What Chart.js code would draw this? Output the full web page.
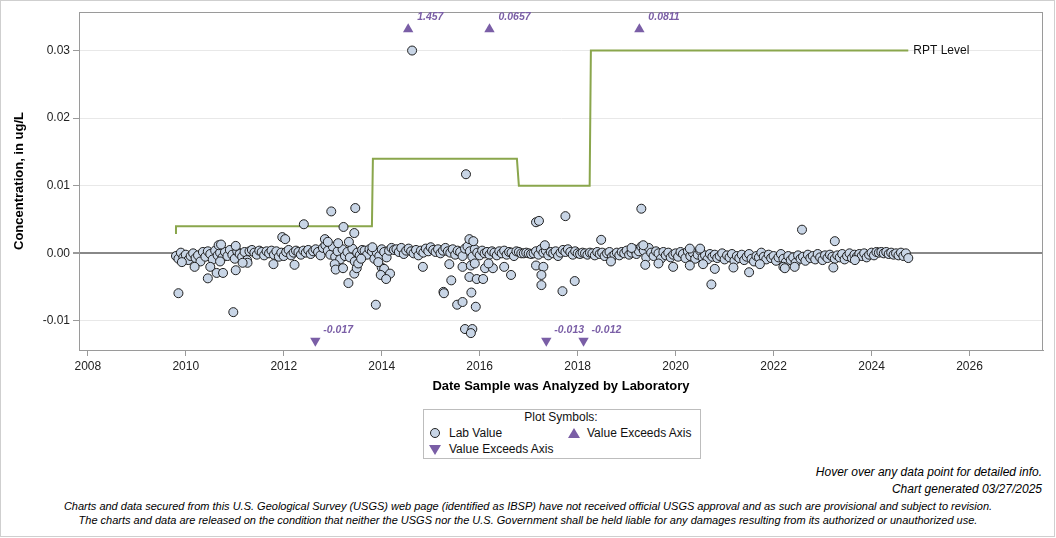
<!DOCTYPE html>
<html>
<head>
<meta charset="utf-8">
<script src="https://cdn.jsdelivr.net/npm/chart.js@4.4.1/dist/chart.umd.min.js"></script>
<style>
  body { margin: 0; background: #fff; font-family: Arial, "Liberation Sans", Helvetica, sans-serif; }
  #frame { position: absolute; left: 0; top: 0; width: 1053px; height: 535px; border: 1px solid #cfcfcf; }
  #wrap { position: absolute; left: 0; top: 0; width: 1056px; height: 400px; }
  .abs { position: absolute; white-space: nowrap; color: #000; }
  #legend { position: absolute; left: 423px; top: 409px; width: 276px; height: 48px; border: 1px solid #bdbdbd; }
  .lg { position: absolute; font-size: 12px; line-height: 14px; white-space: nowrap; color: #111; }
  .dot { position: absolute; width: 8px; height: 8px; border-radius: 50%; background: #c8d5e6; border: 1px solid #222; }
  .up { position: absolute; width: 0; height: 0; border-left: 6px solid transparent; border-right: 6px solid transparent; border-bottom: 10px solid #7a5ea6; }
  .down { position: absolute; width: 0; height: 0; border-left: 6px solid transparent; border-right: 6px solid transparent; border-top: 10px solid #7a5ea6; }
  .note { font-size: 12px; font-style: italic; right: 14px; text-align: right; }
  .disc { font-size: 11px; font-style: italic; left: 0; width: 1056px; text-align: center; }
</style>
</head>
<body>
<div id="frame"></div>
<div id="wrap"><canvas id="chart" width="1056" height="400"></canvas></div>

<div id="legend"></div>
<div class="lg" style="left:423px;top:410px;width:276px;text-align:center;">Plot Symbols:</div>
<div class="dot" style="left:430px;top:428px;"></div>
<div class="lg" style="left:449px;top:426px;">Lab Value</div>
<div class="up" style="left:568px;top:428px;"></div>
<div class="lg" style="left:587px;top:426px;">Value Exceeds Axis</div>
<div class="down" style="left:429px;top:445px;"></div>
<div class="lg" style="left:449px;top:442px;">Value Exceeds Axis</div>

<div class="abs note" style="top:465px;">Hover over any data point for detailed info.</div>
<div class="abs note" style="top:482px;">Chart generated 03/27/2025</div>
<div class="abs disc" style="top:500px;">Charts and data secured from this U.S. Geological Survey (USGS) web page (identified as IBSP) have not received official USGS approval and as such are provisional and subject to revision.</div>
<div class="abs disc" style="top:514px;">The charts and data are released on the condition that neither the USGS nor the U.S. Government shall be held liable for any damages resulting from its authorized or unauthorized use.</div>

<script>
// axis ticks
var xTicks = [2008, 2010, 2012, 2014, 2016, 2018, 2020, 2022, 2024, 2026];
var yTicks = [-0.01, 0, 0.01, 0.02, 0.03];

// reporting level (step line)
var rptYears  = [2009.78, 2009.80, 2013.80, 2013.82, 2016.76, 2016.80, 2018.245, 2018.27, 2024.75];
var rptLevels = [0.003, 0.004, 0.004, 0.014, 0.014, 0.010, 0.010, 0.030, 0.030];

// lab values, the main band near zero
var bandYears = [
  2009.80, 2009.85, 2009.90, 2009.95, 2010.00, 2010.05, 2010.10, 2010.15, 2010.20, 2010.25,
  2010.30, 2010.35, 2010.40, 2010.45, 2010.50, 2010.55, 2010.60, 2010.65, 2010.70, 2010.75,
  2010.80, 2010.85, 2010.90, 2010.95, 2011.00, 2011.05, 2011.10, 2011.15, 2011.20, 2011.25,
  2011.30, 2011.35, 2011.40, 2011.45, 2011.50, 2011.55, 2011.60, 2011.65, 2011.70, 2011.75,
  2011.80, 2011.85, 2011.90, 2011.95, 2012.00, 2012.05, 2012.10, 2012.15, 2012.20, 2012.25,
  2012.30, 2012.35, 2012.40, 2012.45, 2012.50, 2012.55, 2012.60, 2012.65, 2012.70, 2012.75,
  2012.80, 2012.85, 2012.90, 2012.95, 2013.00, 2013.05, 2013.10, 2013.15, 2013.20, 2013.25,
  2013.30, 2013.35, 2013.40, 2013.45, 2013.50, 2013.55, 2013.60, 2013.65, 2013.70, 2013.75,
  2013.80, 2013.85, 2013.90, 2013.95, 2014.00, 2014.05, 2014.10, 2014.15, 2014.20, 2014.25,
  2014.30, 2014.35, 2014.40, 2014.45, 2014.50, 2014.55, 2014.60, 2014.65, 2014.70, 2014.75,
  2014.80, 2014.85, 2014.90, 2014.95, 2015.00, 2015.05, 2015.10, 2015.15, 2015.20, 2015.25,
  2015.30, 2015.35, 2015.40, 2015.45, 2015.50, 2015.55, 2015.60, 2015.65, 2015.70, 2015.75,
  2015.80, 2015.85, 2015.90, 2015.95, 2016.00, 2016.05, 2016.10, 2016.15, 2016.20, 2016.25,
  2016.30, 2016.35, 2016.40, 2016.45, 2016.50, 2016.55, 2016.60, 2016.65, 2016.70, 2016.75,
  2016.80, 2016.85, 2016.90, 2016.95, 2017.00, 2017.05, 2017.10, 2017.15, 2017.20, 2017.25,
  2017.30, 2017.35, 2017.40, 2017.45, 2017.50, 2017.55, 2017.60, 2017.65, 2017.70, 2017.75,
  2017.80, 2017.85, 2017.90, 2017.95, 2018.00, 2018.05, 2018.10, 2018.15, 2018.20, 2018.25,
  2018.30, 2018.35, 2018.40, 2018.45, 2018.50, 2018.55, 2018.60, 2018.65, 2018.70, 2018.75,
  2018.80, 2018.85, 2018.90, 2018.95, 2019.00, 2019.05, 2019.10, 2019.15, 2019.20, 2019.25,
  2019.30, 2019.35, 2019.40, 2019.45, 2019.50, 2019.55, 2019.60, 2019.65, 2019.70, 2019.75,
  2019.80, 2019.85, 2019.90, 2019.95, 2020.00, 2020.05, 2020.10, 2020.15, 2020.20, 2020.25,
  2020.30, 2020.35, 2020.40, 2020.45, 2020.50, 2020.55, 2020.60, 2020.65, 2020.70, 2020.75,
  2020.80, 2020.85, 2020.90, 2020.95, 2021.00, 2021.05, 2021.10, 2021.15, 2021.20, 2021.25,
  2021.30, 2021.35, 2021.40, 2021.45, 2021.50, 2021.55, 2021.60, 2021.65, 2021.70, 2021.75,
  2021.80, 2021.85, 2021.90, 2021.95, 2022.00, 2022.05, 2022.10, 2022.15, 2022.20, 2022.25,
  2022.30, 2022.35, 2022.40, 2022.45, 2022.50, 2022.55, 2022.60, 2022.65, 2022.70, 2022.75,
  2022.80, 2022.85, 2022.90, 2022.95, 2023.00, 2023.05, 2023.10, 2023.15, 2023.20, 2023.25,
  2023.30, 2023.35, 2023.40, 2023.45, 2023.50, 2023.55, 2023.60, 2023.65, 2023.70, 2023.75,
  2023.80, 2023.85, 2023.90, 2023.95, 2024.00, 2024.05, 2024.10, 2024.15, 2024.20, 2024.25,
  2024.30, 2024.35, 2024.40, 2024.45, 2024.50, 2024.55, 2024.60, 2024.65, 2024.70, 2024.75
];
var bandValues = [
  -0.0004, -0.0008, 0.0001, -0.0006, -0.0002, -0.0010, -0.0004, 0.0000, -0.0007, -0.0003,
  -0.0012, 0.0002, -0.0005, 0.0003, -0.0001, -0.0009, 0.0004, -0.0003, 0.0001, -0.0006,
  0.0002, -0.0004, 0.0005, -0.0002, -0.0008, 0.0003, -0.0001, -0.0005, 0.0002, -0.0010,
  0.0003, 0.0005, 0.0001, -0.0002, 0.0004, 0.0002, -0.0003, 0.0003, 0.0000, 0.0004,
  -0.0002, 0.0003, -0.0005, 0.0001, -0.0004, 0.0002, 0.0005, -0.0003, 0.0001, 0.0004,
  0.0002, -0.0002, 0.0004, 0.0001, 0.0005, -0.0001, 0.0003, 0.0006, 0.0002, -0.0003,
  0.0008, 0.0012, 0.0004, -0.0002, 0.0010, -0.0005, 0.0003, -0.0009, 0.0006, -0.0004,
  0.0002, -0.0006, 0.0007, -0.0012, 0.0001, -0.0003, 0.0005, 0.0004, -0.0002, 0.0006,
  0.0003, -0.0008, 0.0001, -0.0004, 0.0006, 0.0002, -0.0006, 0.0004, 0.0008, 0.0005,
  0.0006, 0.0002, 0.0008, -0.0001, 0.0004, 0.0007, 0.0003, 0.0000, 0.0005, -0.0003,
  0.0004, 0.0001, 0.0007, 0.0003, 0.0009, 0.0005, 0.0002, 0.0006, 0.0000, 0.0004,
  0.0008, 0.0003, 0.0001, 0.0006, -0.0002, 0.0004, 0.0002, -0.0004, 0.0007, 0.0010,
  0.0003, -0.0005, 0.0006, 0.0001, -0.0003, 0.0004, 0.0000, 0.0002, -0.0002, 0.0003,
  0.0001, -0.0003, 0.0003, 0.0000, 0.0004, -0.0002, 0.0002, 0.0001, -0.0004, 0.0003,
  0.0002, 0.0000, 0.0000, 0.0001, 0.0000, -0.0001, 0.0000, 0.0003, -0.0002, 0.0006,
  0.0001, 0.0004, -0.0003, 0.0002, 0.0000, 0.0003, -0.0004, 0.0001, 0.0005, 0.0002,
  0.0006, 0.0002, -0.0002, 0.0003, 0.0000, -0.0001, 0.0001, 0.0000, -0.0002, 0.0001,
  0.0000, -0.0003, 0.0002, -0.0001, 0.0001, -0.0004, 0.0000, 0.0002, -0.0005, -0.0002,
  0.0001, -0.0003, 0.0002, 0.0000, 0.0004, -0.0002, 0.0001, 0.0006, -0.0001, 0.0003,
  0.0010, 0.0004, -0.0006, 0.0008, 0.0001, -0.0004, 0.0003, 0.0000, -0.0008, 0.0002,
  -0.0003, 0.0001, -0.0006, -0.0002, 0.0000, -0.0005, 0.0002, -0.0001, -0.0007, 0.0003,
  -0.0004, 0.0001, -0.0008, -0.0002, 0.0004, -0.0006, -0.0003, -0.0009, -0.0001, -0.0005,
  -0.0002, -0.0007, -0.0004, 0.0000, -0.0009, -0.0003, -0.0006, -0.0001, -0.0011, -0.0004,
  -0.0007, -0.0002, -0.0010, -0.0005, -0.0001, -0.0008, -0.0012, -0.0004, -0.0006, 0.0001,
  -0.0005, -0.0009, -0.0002, -0.0007, -0.0004, -0.0011, -0.0006, -0.0001, -0.0008, -0.0013,
  -0.0004, -0.0010, -0.0006, -0.0014, -0.0003, -0.0008, -0.0005, -0.0011, -0.0002, -0.0007,
  -0.0004, -0.0009, -0.0001, -0.0006, -0.0010, -0.0003, -0.0007, -0.0002, -0.0005, -0.0008,
  -0.0003, -0.0006, -0.0001, -0.0009, -0.0004, 0.0000, -0.0007, -0.0002, -0.0005, -0.0001,
  -0.0004, 0.0000, -0.0006, -0.0002, 0.0001, -0.0003, 0.0002, 0.0001, 0.0002, 0.0000,
  0.0002, -0.0001, 0.0001, -0.0002, 0.0000, -0.0003, 0.0001, -0.0004, 0.0000, -0.0007
];

// lab values away from the band
var outlierYears = [
  2009.85, 2010.97, 2010.45, 2010.50, 2010.63, 2010.76, 2011.02, 2010.67, 2010.72, 2011.02,
  2010.18, 2009.92, 2010.70, 2011.26, 2011.16, 2011.79, 2011.97, 2012.03, 2012.41, 2012.22,
  2012.97, 2013.46, 2013.22, 2013.44, 2013.33, 2012.84, 2012.90, 2013.11, 2013.04, 2013.06,
  2013.21, 2013.32, 2013.44, 2013.49, 2013.52, 2013.58, 2013.88, 2013.81, 2014.00, 2014.05,
  2014.17, 2013.98, 2014.09, 2013.93, 2014.62, 2015.72, 2017.15, 2017.21, 2017.75, 2015.79,
  2015.87, 2015.26, 2015.27, 2015.42, 2015.54, 2015.65, 2015.83, 2015.92, 2015.70, 2015.85,
  2015.82, 2015.79, 2015.94, 2016.07, 2014.84, 2015.38, 2015.65, 2015.82, 2015.90, 2016.11,
  2016.27, 2016.18, 2016.50, 2016.64, 2017.15, 2017.30, 2017.26, 2017.26, 2017.69, 2017.94,
  2017.33, 2019.30, 2018.48, 2020.73, 2021.50, 2018.68, 2019.38, 2019.65, 2019.95, 2020.29,
  2020.56, 2020.80, 2021.18, 2021.72, 2022.20, 2019.34, 2019.10, 2020.29, 2020.50, 2022.58,
  2023.25, 2023.22, 2022.23, 2022.43, 2023.66
];
var outlierValues = [
  -0.0059, -0.0087, -0.0037, -0.0020, -0.0029, -0.0029, -0.0025, 0.0012, 0.0013, 0.0011,
  -0.0020, -0.0013, -0.0012, -0.0014, -0.0014, -0.0016, 0.0024, 0.0021, 0.0043, -0.0017,
  0.0062, 0.0067, 0.0039, 0.0030, 0.0017, 0.0021, 0.0017, 0.0015, -0.0016, -0.0024,
  -0.0022, -0.0044, -0.0030, -0.0022, -0.0015, -0.0008, -0.0076, 0.0009, -0.0021, -0.0023,
  -0.0030, -0.0032, -0.0038, -0.0013, 0.0300, 0.0117, 0.0046, 0.0048, 0.0055, 0.0021,
  0.0018, -0.0057, -0.0059, -0.0040, -0.0076, -0.0072, -0.0058, -0.0079, -0.0112, -0.0112,
  -0.0118, -0.0035, -0.0038, -0.0038, -0.0020, -0.0016, -0.0020, -0.0018, -0.0015, -0.0022,
  -0.0022, -0.0015, -0.0020, -0.0032, -0.0018, -0.0020, -0.0032, -0.0047, -0.0056, -0.0041,
  0.0012, 0.0066, 0.0020, -0.0046, -0.0028, -0.0012, -0.0017, -0.0015, -0.0020, -0.0018,
  -0.0016, -0.0023, -0.0021, -0.0016, -0.0020, 0.0012, 0.0008, 0.0007, 0.0007, 0.0035,
  0.0018, -0.0021, -0.0022, -0.0020, -0.0010
];

// values beyond the axis range (plotted at the edge, labelled)
var highYears  = [2014.54, 2016.20, 2019.26];
var highLabels = ['1.457', '0.0657', '0.0811'];
var lowYears   = [2012.645, 2017.36, 2018.12];
var lowLabels  = ['-0.017', '-0.013', '-0.012'];
var highEdge = 0.03314;
var lowEdge = -0.01295;

var FONT = 'Arial, "Liberation Sans", Helvetica, sans-serif';
var purple = '#7a5ea6';

var labPoints = [];
for (var i = 0; i < bandYears.length; i++) labPoints.push({x: bandYears[i], y: bandValues[i]});
for (var j = 0; j < outlierYears.length; j++) labPoints.push({x: outlierYears[j], y: outlierValues[j]});

var rptPoints = rptYears.map((x, k) => ({x: x, y: rptLevels[k]}));
var highPoints = highYears.map((x) => ({x: x, y: highEdge}));
var lowPoints = lowYears.map((x) => ({x: x, y: lowEdge}));

// box round the plot and the text labels
var extras = {
  id: 'extras',
  afterDraw: function(chart) {
    var c = chart.ctx, a = chart.chartArea;
    c.save();
    c.strokeStyle = '#9a9a9a';
    c.lineWidth = 1;
    c.strokeRect(a.left + 0.5, a.top + 0.5, a.right - a.left - 1, a.bottom - a.top);

    c.font = 'italic bold 10.5px ' + FONT;
    c.fillStyle = purple;
    c.textAlign = 'left';
    c.textBaseline = 'middle';
    chart.getDatasetMeta(2).data.forEach(function(p, k) {
      c.fillText(highLabels[k], p.x + 9, p.y - 12);
    });
    chart.getDatasetMeta(3).data.forEach(function(p, k) {
      c.fillText(lowLabels[k], p.x + 8, p.y - 11);
    });

    var last = chart.getDatasetMeta(0).data[rptPoints.length - 1];
    c.font = '12px ' + FONT;
    c.fillStyle = '#111';
    c.fillText('RPT Level', last.x + 5, last.y);
    c.restore();
  }
};

var ctx = document.getElementById('chart').getContext('2d');
var chart = new Chart(ctx, {
  data: {
    datasets: [
      {
        type: 'line',
        label: 'RPT Level',
        data: rptPoints,
        borderColor: '#8aa64c',
        borderWidth: 2,
        pointRadius: 0,
        tension: 0,
        fill: false,
        order: 3
      },
      {
        type: 'scatter',
        label: 'Lab Value',
        data: labPoints,
        pointRadius: 4.5,
        pointBackgroundColor: '#c8d5e6',
        pointBorderColor: '#1e1e1e',
        pointBorderWidth: 1,
        order: 2
      },
      {
        type: 'scatter',
        label: 'Value Exceeds Axis',
        data: highPoints,
        pointStyle: 'triangle',
        pointRadius: 6,
        pointBackgroundColor: purple,
        pointBorderColor: purple,
        pointBorderWidth: 0,
        order: 1
      },
      {
        type: 'scatter',
        label: 'Value Exceeds Axis',
        data: lowPoints,
        pointStyle: 'triangle',
        rotation: 180,
        pointRotation: 180,
        pointRadius: 6,
        pointBackgroundColor: purple,
        pointBorderColor: purple,
        pointBorderWidth: 0,
        order: 1
      }
    ]
  },
  options: {
    responsive: false,
    animation: false,
    devicePixelRatio: 1,
    layout: { padding: { left: 0, top: 12, right: 13, bottom: 0 } },
    plugins: {
      legend: { display: false },
      tooltip: { enabled: false }
    },
    scales: {
      x: {
        type: 'linear',
        min: 2007.82,
        max: 2027.5,
        afterBuildTicks: function(axis) { axis.ticks = xTicks.map((v) => ({value: v})); },
        afterFit: function(axis) { axis.height = 50; },
        ticks: {
          color: '#222',
          font: { family: FONT, size: 12 },
          padding: 3,
          maxRotation: 0,
          callback: function(v) { return String(v); }
        },
        grid: { drawOnChartArea: false, drawTicks: true, tickLength: 6, tickColor: '#9a9a9a' },
        border: { color: '#9a9a9a' },
        title: {
          display: true,
          text: 'Date Sample was Analyzed by Laboratory',
          color: '#000',
          font: { family: FONT, size: 13, weight: 'bold' },
          padding: 6
        }
      },
      y: {
        type: 'linear',
        min: -0.0143,
        max: 0.0357,
        afterBuildTicks: function(axis) { axis.ticks = yTicks.map((v) => ({value: v})); },
        afterFit: function(axis) { axis.width = 79; },
        ticks: {
          color: '#222',
          font: { family: FONT, size: 12 },
          padding: 3,
          callback: function(v) { return v.toFixed(2); }
        },
        grid: {
          color: function(c) { return c.tick && c.tick.value === 0 ? '#888888' : '#e8e8e8'; },
          lineWidth: function(c) { return c.tick && c.tick.value === 0 ? 2 : 1; },
          tickLength: 6,
          tickColor: '#9a9a9a'
        },
        border: { color: '#9a9a9a' },
        title: {
          display: true,
          text: 'Concentration, in ug/L',
          color: '#000',
          font: { family: FONT, size: 13, weight: 'bold' },
          padding: 12
        }
      }
    }
  },
  plugins: [extras]
});
</script>
</body>
</html>
